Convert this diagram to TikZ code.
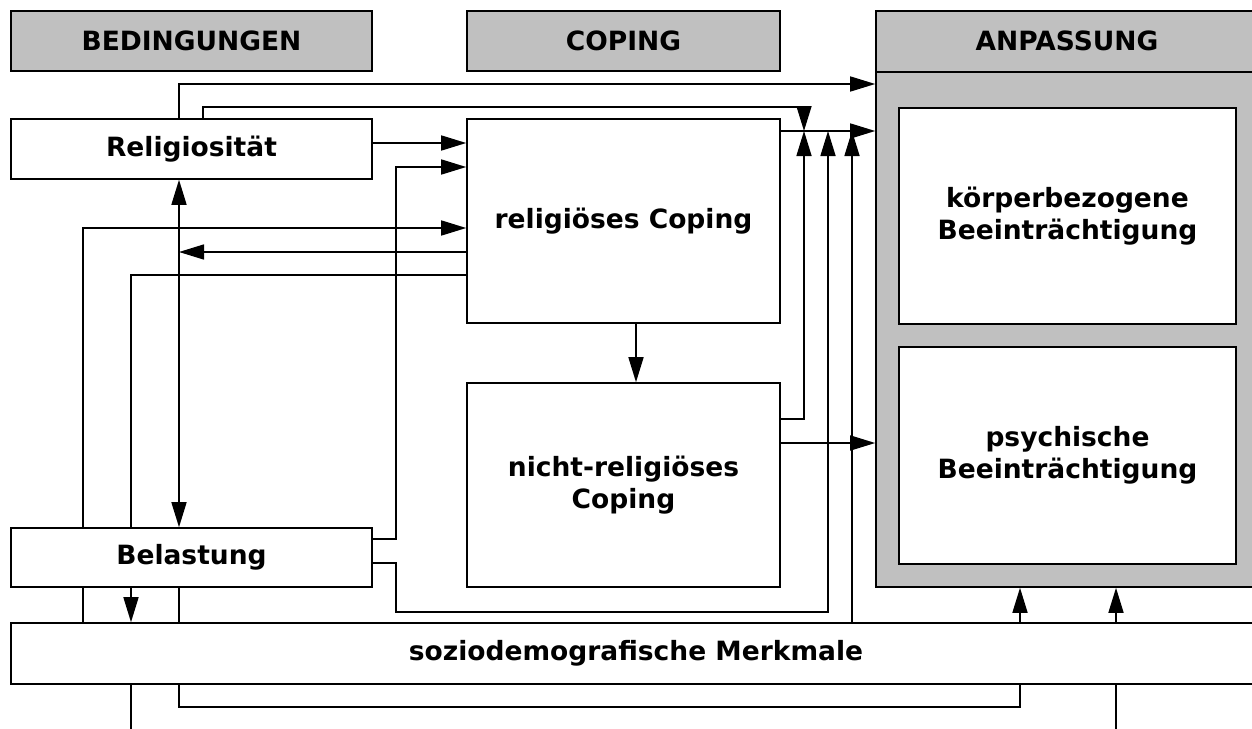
\documentclass[tikz,border=0pt]{standalone}
\usepackage{fontspec}
\setmainfont{DejaVu Sans}
\usetikzlibrary{arrows.meta}
\definecolor{hdrgray}{HTML}{C0C0C0}
\begin{document}
\begin{tikzpicture}[x=1pt,y=-1pt,
  lw/.style={line width=1.6pt},
  txt/.style={inner sep=0pt, align=center, font=\bfseries\fontsize{26.5}{32}\selectfont},
  box/.style={txt, lw, draw=black, fill=white},
  hdr/.style={box, fill=hdrgray},
  arr/.style={lw, -{Triangle[length=25pt,width=15pt]}},
  darr/.style={lw, {Triangle[length=25pt,width=15pt]}-{Triangle[length=25pt,width=15pt]}}]
\useasboundingbox (0,0) rectangle (1252,728);
% lanes
\coordinate (xA) at (83,0);
\coordinate (xB) at (131,0);
\coordinate (xC) at (179,0);
\coordinate (xD) at (203,0);
\coordinate (xE) at (396,0);
\coordinate (xK) at (636,0);
\coordinate (xF) at (804,0);
\coordinate (xG) at (828,0);
\coordinate (xH) at (852,0);
\coordinate (xI) at (1020,0);
\coordinate (xJ) at (1116,0);
\coordinate (yT1) at (0,84);
\coordinate (yT2) at (0,107);
\coordinate (yR) at (0,131);
\coordinate (yR1) at (0,143);
\coordinate (yR2) at (0,167);
\coordinate (yR3) at (0,228);
\coordinate (yR4) at (0,252);
\coordinate (yR5) at (0,275);
\coordinate (yN1) at (0,419);
\coordinate (yN2) at (0,443);
\coordinate (yB1) at (0,539);
\coordinate (yB2) at (0,563);
\coordinate (yB3) at (0,612);
\coordinate (yS) at (0,707);
\coordinate (yBot) at (0,732);
% nodes
\node[hdr, minimum width=361pt, minimum height=60pt] (bed) at (191.5,41) {BEDINGUNGEN};
\node[hdr, minimum width=313pt, minimum height=60pt] (cop) at (623.5,41) {COPING};
\node[hdr, minimum width=382pt, minimum height=576pt] (anp) at (1067,299) {};
\node[txt] (anpt) at (1067,41) {ANPASSUNG};
\draw[lw] (anp.west |- bed.south) -- (anp.east |- bed.south);
\node[box, minimum width=337pt, minimum height=216pt] (kb) at (1067.5,216) {körperbezogene\\Beeinträchtigung};
\node[box, minimum width=337pt, minimum height=217pt] (pb) at (1067.5,455.5) {psychische\\Beeinträchtigung};
\node[box, minimum width=361pt, minimum height=60pt] (rel) at (191.5,149) {Religiosität};
\node[box, minimum width=361pt, minimum height=59pt] (bel) at (191.5,557.5) {Belastung};
\node[box, minimum width=313pt, minimum height=204pt] (rc) at (623.5,221) {religiöses Coping};
\node[box, minimum width=313pt, minimum height=204pt] (nrc) at (623.5,485) {nicht-religiöses\\Coping};
\node[box, minimum width=1250pt, minimum height=61pt] (soz) at (636,653.5) {soziodemografische Merkmale};
% connectors
\draw[arr] (xC |- rel.north) |- (anp.west |- yT1);
\draw[arr] (xD |- rel.north) |- (xF |- yT2) -- (xF |- yR);
\draw[arr] (rel.east |- yR1) -- (rc.west |- yR1);
\draw[arr] (bel.east |- yB1) -| (xE |- yR2) -- (rc.west |- yR2);
\draw[arr] (xA |- bel.north) |- (rc.west |- yR3);
\draw[lw] (xA |- bel.south) -- (xA |- soz.north);
\draw[arr] (rc.west |- yR4) -- (xC |- yR4);
\draw[lw] (rc.west |- yR5) -| (xB |- bel.north);
\draw[arr] (xB |- bel.south) -- (xB |- soz.north);
\draw[lw] (xB |- soz.south) -- (xB |- yBot);
\draw[darr] (xC |- rel.south) -- (xC |- bel.north);
\draw[lw] (xC |- bel.south) -- (xC |- soz.north);
\draw[lw] (xC |- soz.south) |- (xI |- yS) -- (xI |- soz.south);
\draw[arr] (xI |- soz.north) -- (xI |- anp.south);
\draw[arr] (xJ |- soz.north) -- (xJ |- anp.south);
\draw[lw] (xJ |- soz.south) -- (xJ |- yBot);
\draw[arr] (bel.east |- yB2) -| (xE |- yB3) -| (xG |- yR);
\draw[arr] (xH |- soz.north) -- (xH |- yR);
\draw[arr] (nrc.east |- yN1) -| (xF |- yR);
\draw[arr] (rc.east |- yR) -- (anp.west |- yR);
\draw[arr] (nrc.east |- yN2) -- (anp.west |- yN2);
\draw[arr] (xK |- rc.south) -- (xK |- nrc.north);
\end{tikzpicture}
\end{document}
